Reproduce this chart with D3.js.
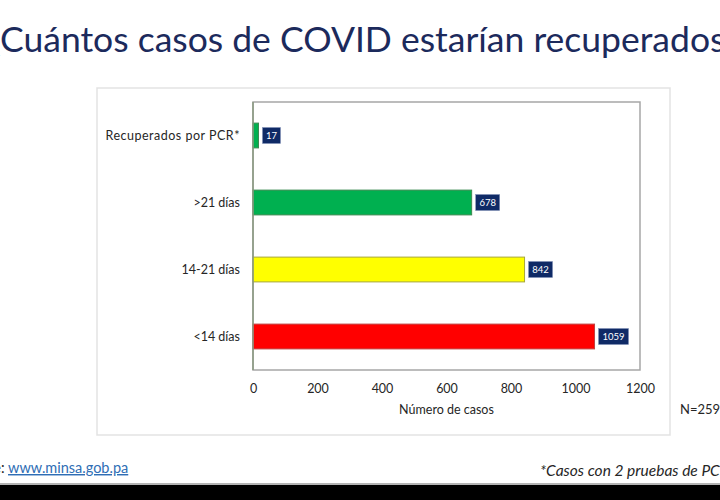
<!DOCTYPE html>
<html>
<head>
<meta charset="utf-8">
<script src="https://d3js.org/d3.v7.min.js"></script>
<style>
body { margin: 0; background: #ffffff; }
svg { display: block; font-family: Lato, "Open Sans", sans-serif; }
</style>
</head>
<body>
<div id="chart"></div>
<script>
// data
var categories = ["Recuperados por PCR*", ">21 días", "14-21 días", "<14 días"];
var values = [17, 678, 842, 1059];
var tickValues = [0, 200, 400, 600, 800, 1000, 1200];
var barColors = ["#00b050", "#00b050", "#ffff00", "#ff0000"];
var barStrokes = ["#3a8a50", "#3a8a50", "#a8a838", "#c04040"];

var W = 720, H = 500;
var svg = d3.select("#chart").append("svg")
    .attr("width", W)
    .attr("height", H);

svg.append("rect").attr("width", W).attr("height", H).attr("fill", "#ffffff");

// title (cut off on both sides like the slide)
var titleSize = 35.5;
var title = svg.append("text")
    .attr("y", 52)
    .attr("font-size", titleSize)
    .attr("fill", "#1c2a5c")
    .text("¿Cuántos casos de COVID estarían recuperados?");
var tmp = svg.append("text").attr("font-size", titleSize).text("¿");
var qw = tmp.node().getComputedTextLength();
tmp.remove();
title.attr("x", 1 - qw);

// chart frame
svg.append("rect")
    .attr("x", 97).attr("y", 88)
    .attr("width", 573).attr("height", 347)
    .attr("fill", "#ffffff")
    .attr("stroke", "#e3e3e3")
    .attr("stroke-width", 1.5);

var pLeft = 253, pRight = 640, pTop = 102, pBottom = 370;

var x = d3.scaleLinear().domain([0, 1200]).range([pLeft, pRight]);
var y = d3.scaleBand().domain(categories).range([pTop, pBottom]).paddingInner(0.63).paddingOuter(0.315);

// plot box
svg.append("rect")
    .attr("x", pLeft).attr("y", pTop)
    .attr("width", pRight - pLeft).attr("height", pBottom - pTop)
    .attr("fill", "none")
    .attr("stroke", "#a6a6a6")
    .attr("stroke-width", 1.5);

// bars
svg.selectAll(".bar")
    .data(values)
    .enter().append("rect")
    .attr("class", "bar")
    .attr("x", x(0))
    .attr("y", function(d, i) { return y(categories[i]); })
    .attr("width", function(d) { return x(d) - x(0); })
    .attr("height", y.bandwidth())
    .attr("fill", function(d, i) { return barColors[i]; })
    .attr("stroke", function(d, i) { return barStrokes[i]; })
    .attr("stroke-width", 1);

// y axis line over the bars
svg.append("line")
    .attr("x1", pLeft).attr("x2", pLeft)
    .attr("y1", pTop).attr("y2", pBottom)
    .attr("stroke", "#8a9a80").attr("stroke-width", 1.5);

// value labels in dark boxes
var lab = svg.selectAll(".lab")
    .data(values)
    .enter().append("g")
    .attr("class", "lab")
    .attr("transform", function(d, i) {
        return "translate(" + (x(d) + 4) + "," + (y(categories[i]) + y.bandwidth() / 2) + ")";
    });
lab.append("rect")
    .attr("x", 0).attr("y", -8)
    .attr("width", function(d) { return String(d).length * 6 + 6; })
    .attr("height", 16)
    .attr("fill", "#0f2a66")
    .attr("stroke", "#8090b8")
    .attr("stroke-width", 0.5);
lab.append("text")
    .attr("x", function(d) { return (String(d).length * 6 + 6) / 2; })
    .attr("y", 3.5)
    .attr("text-anchor", "middle")
    .attr("font-size", 9.5)
    .attr("fill", "#ffffff")
    .text(function(d) { return d; });

// category labels
var yAxis = svg.append("g")
    .attr("transform", "translate(" + pLeft + ",0)")
    .call(d3.axisLeft(y).tickSize(0).tickPadding(13));
yAxis.select(".domain").remove();
yAxis.selectAll("text")
    .attr("font-family", "Lato, sans-serif")
    .attr("font-size", 12.5)
    .attr("fill", "#262626")
    .attr("letter-spacing", function(d, i) { return i === 0 ? 0.5 : 0; });

// x axis ticks
var xAxis = svg.append("g")
    .attr("transform", "translate(0," + pBottom + ")")
    .call(d3.axisBottom(x).tickValues(tickValues).tickFormat(d3.format("d")).tickSize(0).tickPadding(14));
xAxis.select(".domain").remove();
xAxis.selectAll("text")
    .attr("font-family", "Lato, sans-serif")
    .attr("font-size", 12.5)
    .attr("fill", "#262626");

svg.append("text")
    .attr("x", (pLeft + pRight) / 2).attr("y", 414)
    .attr("text-anchor", "middle")
    .attr("font-size", 12.5)
    .attr("fill", "#262626")
    .text("Número de casos");

svg.append("text")
    .attr("x", 680).attr("y", 414)
    .attr("font-size", 13)
    .attr("fill", "#262626")
    .text("N=2596");

// footer
var src = svg.append("text")
    .attr("y", 473)
    .attr("font-size", 14.5)
    .attr("fill", "#262626");
src.append("tspan").text("Fuente: ");
src.append("tspan")
    .attr("fill", "#2f6eb5")
    .attr("text-decoration", "underline")
    .text("www.minsa.gob.pa");
var tmp2 = svg.append("text").attr("font-size", 14.5).text("Fuente");
src.attr("x", 1 - tmp2.node().getComputedTextLength());
tmp2.remove();

svg.append("text")
    .attr("x", 540).attr("y", 476)
    .attr("font-size", 15.5)
    .attr("font-style", "italic")
    .attr("fill", "#262626")
    .text("*Casos con 2 pruebas de PCR negativas");

svg.append("line")
    .attr("x1", 0).attr("x2", W).attr("y1", 484).attr("y2", 484)
    .attr("stroke", "#9a9a9a").attr("stroke-width", 1.5);
svg.append("rect")
    .attr("x", 0).attr("y", 485).attr("width", W).attr("height", 15)
    .attr("fill", "#000000");
</script>
</body>
</html>
